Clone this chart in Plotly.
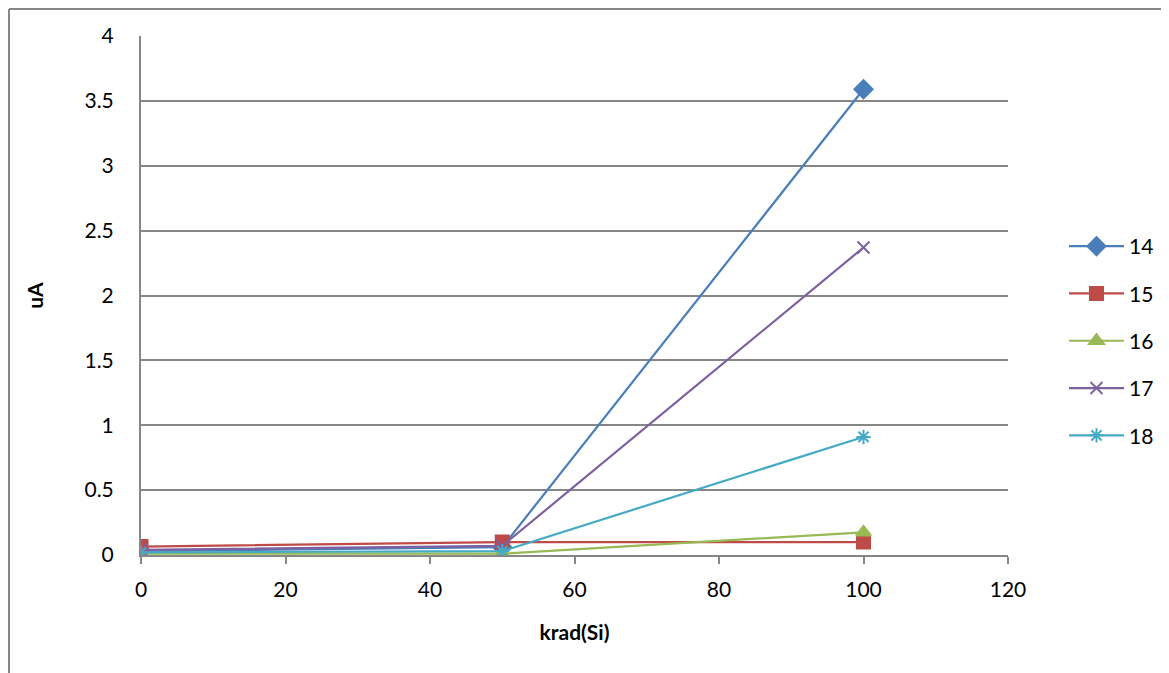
import plotly.graph_objects as go

x_vals = [0, 50, 100]
series_names = ["14", "15", "16", "17", "18"]
s14 = [0.03, 0.06, 3.59]
s15 = [0.065, 0.10, 0.10]
s16 = [0.01, 0.01, 0.175]
s17 = [0.04, 0.07, 2.37]
s18 = [0.02, 0.03, 0.91]
series_values = [s14, s15, s16, s17, s18]
colors = ["#4A7EBB", "#BE4B48", "#98B954", "#7D60A0", "#46AAC5"]
symbols = ["diamond", "square", "triangle-up", "x-thin-open", "asterisk-open"]
sizes = [14, 13, 13, 12, 12]

# the page body has an 8px margin, so the figure is drawn 8px in from the window corner
OFF = 8
W, H = 1169 - OFF, 673 - OFF
L, R, T, B = 141 - OFF, 1008 - OFF, 36 - OFF, 555 - OFF

fig = go.Figure()
for name, vals, c, sym, sz in zip(series_names, series_values, colors, symbols, sizes):
    fig.add_trace(go.Scatter(
        x=x_vals, y=vals, name=name, mode="lines+markers",
        legendgroup=name,
        line=dict(color=c, width=2.2),
        marker=dict(symbol=sym, size=sz, color=c, line=dict(color=c, width=2)),
    ))

font = "Lato, 'Open Sans', sans-serif"
FS = 21
pw, ph = R - L, B - T
fig.update_layout(
    width=W, height=H,
    margin=dict(l=L, r=W - R, t=T, b=H - B, pad=0, autoexpand=False),
    paper_bgcolor="white", plot_bgcolor="white",
    font=dict(family=font, size=FS, color="black"),
    showlegend=True,
    legend=dict(x=(1056 - L) / pw, y=(B - 218) / ph, xanchor="left", yanchor="top",
                font=dict(size=FS), tracegroupgap=17, itemwidth=55,
                bgcolor="rgba(0,0,0,0)"),
    xaxis=dict(range=[0, 120], tickvals=[0, 20, 40, 60, 80, 100, 120],
               showgrid=False, zeroline=False, showline=True, linecolor="#868686", linewidth=2,
               ticks="outside", ticklen=7, tickcolor="#868686", tickwidth=2,
               ticklabelstandoff=8,
               title=dict(text="<b>krad(Si)</b>", font=dict(size=FS), standoff=25)),
    yaxis=dict(range=[0, 4], tickvals=[0, 0.5, 1, 1.5, 2, 2.5, 3, 3.5, 4],
               ticktext=["0", "0.5", "1", "1.5", "2", "2.5", "3", "3.5", "4"],
               showgrid=True, gridcolor="#868686", gridwidth=1.5, zeroline=False,
               showline=True, linecolor="#868686", linewidth=2, ticks="",
               ticklabelstandoff=21,
               title=dict(text="<b>uA</b>", font=dict(size=FS), standoff=35)),
)
# outer chart-area frame (left and top edges visible)
fig.add_shape(type="line", xref="paper", yref="paper",
              x0=(1 - L) / pw, x1=(1 - L) / pw, y0=(B - H - 5) / ph, y1=(B - 1) / ph,
              line=dict(color="#868686", width=2))
fig.add_shape(type="line", xref="paper", yref="paper",
              x0=(1 - L) / pw, x1=(W + 5 - L) / pw, y0=(B - 1) / ph, y1=(B - 1) / ph,
              line=dict(color="#868686", width=2))
fig.write_html("out.html")
